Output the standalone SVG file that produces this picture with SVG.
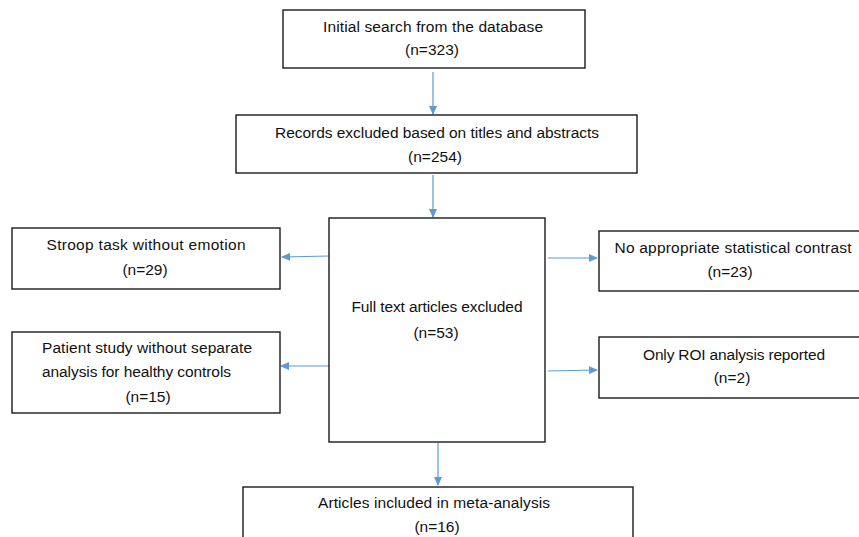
<svg xmlns="http://www.w3.org/2000/svg" width="859" height="537" viewBox="0 0 859 537">
<style>
.box{fill:#fff;stroke:#1a1a1a;stroke-width:1.4}
.t{font-family:"Liberation Sans",Arial,sans-serif;font-size:15.5px;fill:#111;text-anchor:middle}
.tl{font-family:"Liberation Sans",Arial,sans-serif;font-size:15.5px;fill:#111;text-anchor:start}
.c{stroke:#5B9BD5;stroke-width:1.2;fill:none;marker-end:url(#ah)}
</style>
<defs>
<marker id="ah" markerWidth="9" markerHeight="8" refX="8" refY="4" orient="auto" markerUnits="userSpaceOnUse">
<path d="M0,0 L9,4 L0,8 Z" fill="#5B9BD5"/>
</marker>
</defs>
<rect width="859" height="537" fill="#fff"/>
<g id="connectors">
<line class="c" x1="433" y1="72" x2="433" y2="114"/>
<line class="c" x1="433" y1="175" x2="433" y2="217"/>
<line class="c" x1="329" y1="256" x2="282" y2="257"/>
<line class="c" x1="329" y1="366" x2="281" y2="366"/>
<line class="c" x1="548" y1="258" x2="597" y2="258"/>
<line class="c" x1="548" y1="371" x2="597" y2="370"/>
<line class="c" x1="438" y1="443" x2="438" y2="485"/>
</g>
<g id="n1">
<rect class="box" x="283" y="10" width="302" height="58"/>
<text class="t" x="433" y="32" textLength="220">Initial search from the database</text>
<text class="t" x="432" y="55">(n=323)</text>
</g>
<g id="n2">
<rect class="box" x="236" y="115" width="401" height="58"/>
<text class="t" x="437" y="138" textLength="324">Records excluded based on titles and abstracts</text>
<text class="t" x="435" y="162">(n=254)</text>
</g>
<g id="n3">
<rect class="box" x="329" y="218" width="216" height="224"/>
<text class="t" x="437" y="312" textLength="171">Full text articles excluded</text>
<text class="t" x="436" y="338">(n=53)</text>
</g>
<g id="n4">
<rect class="box" x="12" y="228" width="268" height="61"/>
<text class="t" x="146" y="250" textLength="199">Stroop task without emotion</text>
<text class="t" x="145" y="275">(n=29)</text>
</g>
<g id="n5">
<rect class="box" x="12" y="332" width="268" height="81"/>
<text class="tl" x="42" y="353" textLength="210">Patient study without separate</text>
<text class="tl" x="42" y="377" textLength="189">analysis for healthy controls</text>
<text class="t" x="148" y="402">(n=15)</text>
</g>
<g id="n6">
<rect class="box" x="599" y="231" width="268" height="60"/>
<text class="t" x="733" y="253" textLength="237">No appropriate statistical contrast</text>
<text class="t" x="730" y="277">(n=23)</text>
</g>
<g id="n7">
<rect class="box" x="599" y="337" width="268" height="61"/>
<text class="t" x="734" y="360" textLength="182">Only ROI analysis reported</text>
<text class="t" x="732" y="383">(n=2)</text>
</g>
<g id="n8">
<rect class="box" x="243" y="487" width="390" height="70"/>
<text class="t" x="434" y="508" textLength="232">Articles included in meta-analysis</text>
<text class="t" x="437" y="532">(n=16)</text>
</g>
</svg>
